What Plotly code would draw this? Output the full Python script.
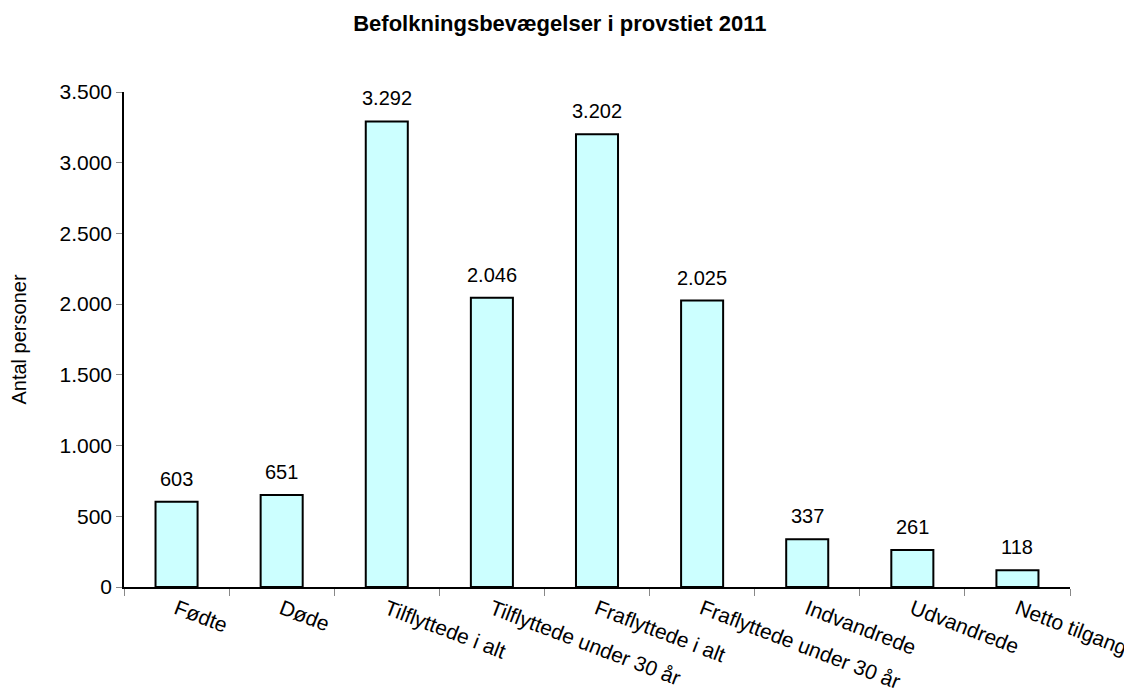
import plotly.graph_objects as go

categories = ["Fødte", "Døde", "Tilflyttede i alt", "Tilflyttede under 30 år",
              "Fraflyttede i alt", "Fraflyttede under 30 år", "Indvandrede",
              "Udvandrede", "Netto tilgang"]
values = [603, 651, 3292, 2046, 3202, 2025, 337, 261, 118]
y_ticks = [0, 500, 1000, 1500, 2000, 2500, 3000, 3500]

FONT = "Liberation Sans, Arial, Helvetica, sans-serif"

fig = go.Figure()
fig.add_trace(go.Bar(
    x=categories, y=values,
    marker=dict(color="#CCFFFF", line=dict(color="black", width=2)),
    hoverinfo="x+y",
))

for c, v in zip(categories, values):
    fig.add_annotation(x=c, y=v, text=f"{v:,}".replace(",", "."),
                       showarrow=False, yanchor="bottom", yshift=10,
                       font=dict(family=FONT, size=20, color="black"))

fig.update_layout(
    width=1124, height=681,
    margin=dict(l=116, r=62, t=84, b=102),
    paper_bgcolor="white", plot_bgcolor="white",
    separators=",.",
    bargap=0.6,
    showlegend=False,
    title=dict(text="<b>Befolkningsbevægelser i provstiet 2011</b>",
               x=0.491, xref="container", xanchor="center",
               y=0.977, yref="container", yanchor="middle",
               font=dict(family=FONT, size=22, color="black")),
    font=dict(family=FONT, color="black"),
)

fig.update_xaxes(
    type="category", tickangle=21, tickson="boundaries",
    ticks="outside", ticklen=7, tickcolor="#888888", tickwidth=1,
    showline=True, linecolor="black", linewidth=1.5,
    showgrid=False, zeroline=False, automargin=False,
    tickfont=dict(family=FONT, size=21, color="black"),
)
fig.update_yaxes(
    range=[0, 3500], tickvals=y_ticks, tickformat=",d",
    ticks="outside", ticklen=6, tickcolor="#888888", tickwidth=1,
    showline=True, linecolor="black", linewidth=1.5,
    showgrid=False, zeroline=False, automargin=False,
    tickfont=dict(family=FONT, size=21, color="black"),
    title=dict(text="Antal personer", standoff=38,
               font=dict(family=FONT, size=20, color="black")),
)

fig.write_html("out.html")
